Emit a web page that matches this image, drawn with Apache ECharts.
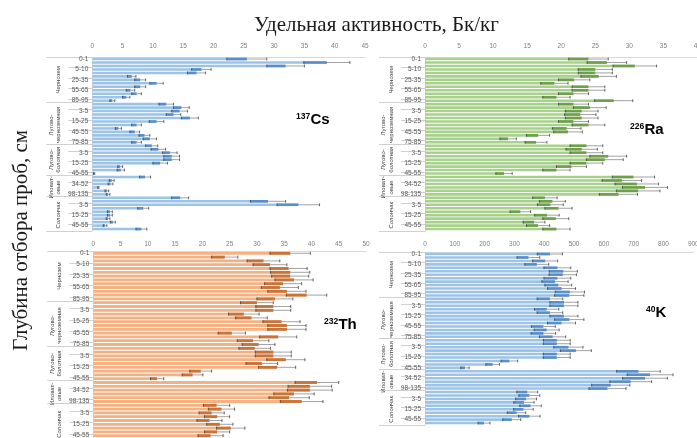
<!DOCTYPE html>
<html>
<head>
<meta charset="utf-8">
<script src="https://cdn.jsdelivr.net/npm/echarts@6/dist/echarts.min.js"></script>
<style>
  html, body { margin: 0; padding: 0; background: #fff; }
  #chart { width: 697px; height: 438px; }
</style>
</head>
<body>
<div id="chart"></div>
<script>
// depth rows, top to bottom, grouped by soil type
const depthLabels = [
  '0-1', '1-3', '3-5', '5-10', '10-15', '15-25', '25-35', '35-45', '45-55', '55-65', '65-75', '75-85', '85-95',
  '0-1', '1-3', '3-5', '5-10', '10-15', '15-25', '25-35', '35-45', '45-55', '55-65', '65-75', '75-85',
  '0-1', '1-3', '3-5', '5-10', '10-15', '15-25', '25-35', '35-45', '45-55',
  '0-17', '17-34', '34-52', '52-75', '75-98', '98-135',
  '0-1', '1-3', '3-5', '5-10', '10-15', '15-25', '25-35', '35-45', '45-55', '55-65'
];
const groupNames = ['Чернозем', 'Лугово-\nчерноземная', 'Лугово-\nболотная', 'Иловат-\nовые', 'Солончак'];
const groupSizes = [13, 12, 9, 6, 10];

const csValues = [25.5, 38.7, 31.9, 18.0, 17.2, 6.5, 7.9, 10.6, 7.9, 6.3, 7.3, 5.6, 3.3,
  12.2, 14.7, 14.4, 13.4, 16.1, 10.6, 7.3, 4.3, 7.0, 8.6, 9.5, 7.3,
  9.8, 10.9, 12.8, 13.1, 13.1, 11.2, 4.6, 4.7, 0.3,
  8.7, 3.2, 3.0, 1.0, 2.4, 2.6,
  14.5, 29.0, 34.0, 8.4, 2.9, 2.9, 2.6, 3.4, 2.1, 8.1];
const csErrors = [3.3, 3.8, 3.1, 1.6, 1.5, 0.7, 0.9, 1.1, 0.9, 0.7, 0.8, 0.6, 0.4,
  1.2, 1.3, 1.3, 1.2, 1.4, 1.2, 0.8, 0.5, 0.8, 0.9, 1.1, 0.8,
  1.0, 1.2, 1.2, 1.3, 1.3, 1.2, 0.4, 0.6, 0.1,
  0.9, 0.4, 0.4, 0.1, 0.3, 0.3,
  1.4, 2.9, 3.5, 0.9, 0.4, 0.4, 0.3, 0.4, 0.3, 0.9];

const raValues = [24.0, 26.7, 30.8, 25.0, 25.0, 25.5, 21.9, 19.0, 24.0, 24.0, 21.8, 19.3, 27.7,
  21.8, 24.2, 23.0, 22.8, 23.0, 21.8, 24.0, 20.8, 21.0, 16.6, 12.2, 16.3,
  23.7, 23.0, 23.7, 26.9, 26.4, 23.7, 21.5, 19.3, 11.6,
  30.6, 28.9, 31.1, 32.3, 31.3, 28.4,
  17.6, 18.7, 18.4, 19.6, 14.0, 17.9, 19.2, 16.0, 16.6, 19.3];
const raErrors = [2.9, 2.9, 3.2, 2.5, 2.5, 2.6, 2.3, 2.0, 2.4, 2.4, 2.2, 2.0, 2.8,
  2.2, 2.4, 2.4, 2.3, 2.4, 2.2, 2.4, 2.1, 2.1, 1.7, 1.2, 1.6,
  2.4, 2.3, 2.4, 2.7, 2.7, 2.4, 2.2, 2.0, 1.2,
  3.1, 2.9, 3.2, 3.3, 3.2, 2.8,
  1.8, 1.9, 1.9, 2.0, 1.5, 1.8, 1.9, 1.6, 1.7, 2.0];

const thValues = [36.1, 24.1, 31.2, 32.4, 35.8, 36.1, 36.1, 36.8, 34.8, 34.2, 35.5, 39.1, 33.3,
  30.0, 33.0, 33.0, 27.6, 29.0, 34.5, 35.5, 35.5, 25.4, 33.9, 29.3, 30.3,
  29.6, 33.0, 33.0, 35.3, 30.9, 33.7, 19.7, 18.2, 11.7,
  41.0, 39.7, 39.7, 36.8, 35.9, 38.2,
  22.6, 23.5, 21.7, 22.7, 21.3, 23.2, 25.2, 22.7, 21.5, 22.0];
const thErrors = [3.7, 2.4, 3.0, 3.1, 3.4, 3.6, 3.4, 3.5, 3.4, 3.4, 3.5, 3.7, 3.3,
  3.0, 3.2, 3.2, 2.8, 2.9, 3.4, 3.5, 3.5, 2.5, 3.4, 2.9, 3.0,
  2.9, 3.3, 3.3, 3.5, 2.9, 3.4, 2.0, 1.9, 1.2,
  4.0, 4.0, 4.1, 3.7, 3.7, 3.9,
  2.4, 2.4, 2.3, 2.3, 2.3, 2.4, 2.6, 2.3, 2.3, 2.3];

const kValues = [419, 347, 403, 375, 444, 464, 462, 444, 436, 447, 458, 486, 484,
  419, 466, 466, 408, 419, 466, 484, 458, 397, 408, 397, 428,
  442, 442, 481, 506, 442, 442, 283, 227, 134,
  716, 755, 738, 690, 623, 612,
  343, 350, 339, 332, 354, 330, 307, 350, 291, 198];
const kErrors = [42, 38, 42, 40, 45, 47, 46, 45, 44, 45, 47, 49, 49,
  43, 47, 47, 41, 43, 47, 49, 47, 40, 42, 41, 44,
  45, 45, 49, 52, 45, 45, 28, 23, 14,
  73, 77, 75, 70, 64, 62,
  35, 35, 35, 34, 36, 33, 31, 36, 30, 20];

const SANS = '"Liberation Sans", Arial, sans-serif';
const SERIF = '"Liberation Serif", "Times New Roman", serif';

// group boundaries and the row where each group name sits
const groupStarts = [];
const groupLabelRow = {};
let acc = 0;
groupSizes.forEach((n, i) => {
  groupStarts.push(acc);
  groupLabelRow[acc + Math.floor((n - 1) / 2 + 0.5)] = groupNames[i];
  acc += n;
});
const groupAxisData = depthLabels.map((_, i) => groupLabelRow[i] || '');

const panels = [
  { values: csValues, errors: csErrors, max: 45, interval: 5, left: 92.3, top: 57.3, width: 272.7, height: 173.5,
    color: '#9dc3e6', dark: '#5b8ec8', labelMargin: 8 },
  { values: raValues, errors: raErrors, max: 45, interval: 5, left: 425, top: 57.3, width: 306.5, height: 173.5,
    color: '#a9d18e', dark: '#6f9e4c', labelMargin: 8 },
  { values: thValues, errors: thErrors, max: 50, interval: 5, left: 93.3, top: 251.4, width: 272.7, height: 190,
    color: '#f4b183', dark: '#c8733a', labelMargin: 4 },
  { values: kValues, errors: kErrors, max: 900, interval: 100, left: 425, top: 252.3, width: 268.3, height: 172.5,
    color: '#9dc3e6', dark: '#5b8ec8', labelMargin: 5 }
];

const errorRender = (dark) => (params, api) => {
  const row = api.value(0);
  const v = api.value(1);
  const e = api.value(2);
  const pLo = api.coord([v - e, row]);
  const pV = api.coord([v, row]);
  const pHi = api.coord([v + e, row]);
  const band = api.size([0, 1])[1];
  const bh = band * 0.74;
  const cap = band * 0.8;
  const y = pV[1];
  return {
    type: 'group',
    children: [
      { type: 'rect', shape: { x: pLo[0], y: y - bh / 2, width: pV[0] - pLo[0], height: bh }, style: { fill: dark } },
      { type: 'line', shape: { x1: pV[0], y1: y, x2: pHi[0], y2: y }, style: { stroke: '#8c8c8c', lineWidth: 0.8 } },
      { type: 'line', shape: { x1: pLo[0], y1: y - cap / 2, x2: pLo[0], y2: y + cap / 2 }, style: { stroke: '#404040', lineWidth: 0.8 } },
      { type: 'line', shape: { x1: pHi[0], y1: y - cap / 2, x2: pHi[0], y2: y + cap / 2 }, style: { stroke: '#404040', lineWidth: 0.8 } }
    ]
  };
};

const grid = [];
const xAxis = [];
const yAxis = [];
const series = [];

panels.forEach((p, i) => {
  grid.push({ left: p.left, top: p.top, width: p.width, height: p.height, containLabel: false, outerBoundsMode: 'none' });
  xAxis.push({
    type: 'value', gridIndex: i, position: 'top', min: 0, max: p.max, interval: p.interval,
    axisLine: { show: true, lineStyle: { color: '#d9d9d9', width: 1 } },
    axisTick: { show: false },
    splitLine: { show: false },
    axisLabel: { fontSize: 6.5, color: '#7f7f7f', fontFamily: SANS, margin: p.labelMargin }
  });
  // depth labels (every third row, like the source)
  yAxis.push({
    type: 'category', gridIndex: i, inverse: true, data: depthLabels,
    axisLine: { show: true, lineStyle: { color: '#d9d9d9' } },
    axisTick: {
      show: true, length: 24, lineStyle: { color: '#d0d0d0', width: 1 },
      interval: (idx) => idx % 3 === 0 || groupStarts.includes(idx)
    },
    axisLabel: { interval: 2, fontSize: 6.5, color: '#595959', fontFamily: SANS, margin: 4 }
  });
  // soil group labels
  yAxis.push({
    type: 'category', gridIndex: i, inverse: true, data: groupAxisData, position: 'left', offset: 24,
    axisLine: { show: false },
    axisTick: {
      show: true, length: 22, lineStyle: { color: '#d0d0d0', width: 1 },
      interval: (idx) => groupStarts.includes(idx)
    },
    axisLabel: { interval: 0, rotate: 90, fontSize: 6, lineHeight: 7.5, color: '#404040', fontFamily: SANS, margin: 6 }
  });
  series.push({
    type: 'bar', xAxisIndex: i, yAxisIndex: i * 2, data: p.values, barWidth: '74%',
    itemStyle: { color: p.color }, silent: true, animation: false
  });
  series.push({
    type: 'custom', xAxisIndex: i, yAxisIndex: i * 2,
    data: p.values.map((v, r) => [r, v, p.errors[r]]),
    encode: { x: 1, y: 0 },
    renderItem: errorRender(p.dark), silent: true, animation: false, z: 5
  });
});

const isotope = (sup, main, x, y) => [
  { type: 'text', x: x, y: y, style: { text: sup, fontSize: 8.5, fontWeight: 'bold', fontFamily: SANS, fill: '#000', verticalAlign: 'top' } },
  { type: 'text', x: x + sup.length * 4.8, y: y, style: { text: main, fontSize: 15, fontWeight: 'bold', fontFamily: SANS, fill: '#000', verticalAlign: 'top' } }
];

const chart = echarts.init(document.getElementById('chart'), null, { renderer: 'canvas' });
chart.setOption({
  animation: false,
  grid, xAxis, yAxis, series,
  graphic: [
    { type: 'text', x: 376.5, y: 25, style: { text: 'Удельная активность, Бк/кг', fontSize: 21, fontFamily: SERIF, fill: '#1a1a1a', align: 'center', verticalAlign: 'middle' } },
    { type: 'text', x: 21, y: 130, rotation: Math.PI / 2, style: { text: 'Глубина отбора проб, см', fontSize: 21, fontFamily: SERIF, fill: '#1a1a1a', align: 'right', verticalAlign: 'middle' } },
    ...isotope('137', 'Cs', 296, 112),
    ...isotope('226', 'Ra', 630, 122),
    ...isotope('232', 'Th', 324, 317),
    ...isotope('40', 'K', 646, 305)
  ]
});
</script>
</body>
</html>
